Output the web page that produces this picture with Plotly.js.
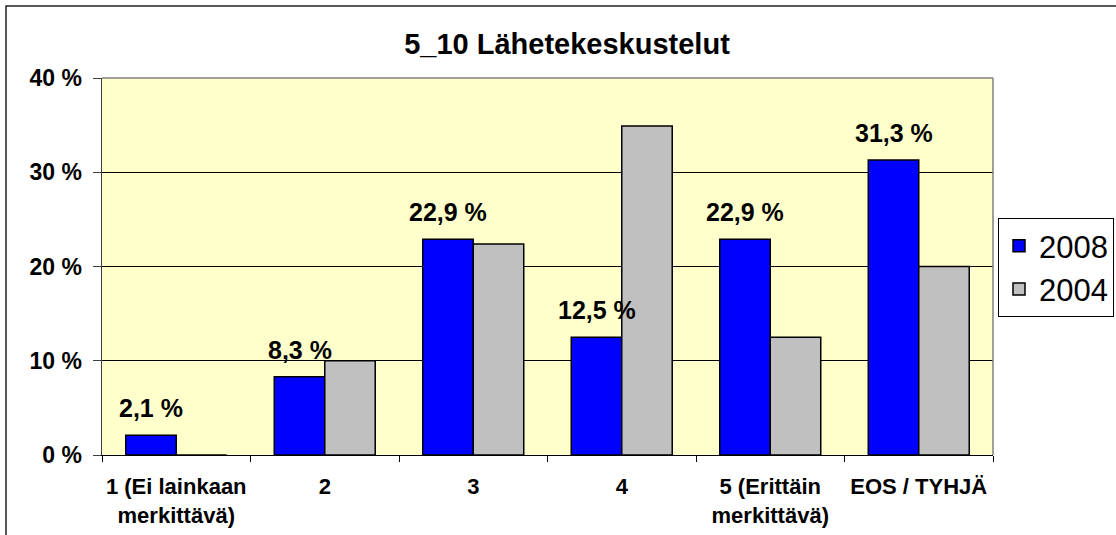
<!DOCTYPE html>
<html>
<head>
<meta charset="utf-8">
<script src="https://cdn.plot.ly/plotly-3.0.1.min.js"></script>
<style>
  html, body { margin: 0; padding: 0; background: #ffffff; }
  #chart { width: 1116px; height: 535px; }
</style>
</head>
<body>
<div id="chart"></div>
<script>
// ---- data ----
const categories = [
  "1 (Ei lainkaan<br>merkittävä)",
  "2",
  "3",
  "4",
  "5 (Erittäin<br>merkittävä)",
  "EOS / TYHJÄ"
];
const series2008 = [2.1, 8.3, 22.9, 12.5, 22.9, 31.3];
const series2004 = [0, 10.0, 22.4, 34.9, 12.5, 20.0];
const seriesNames = ["2008", "2004"];
const yTickVals = [0, 10, 20, 30, 40];
const yTickText = yTickVals.map(v => v + " %");

// ---- styling ----
const FONT = "Liberation Sans, Arial, Helvetica, sans-serif";
const W = 1116, H = 535;
const M = { l: 102, r: 123, t: 78, b: 80 };
const plotW = W - M.l - M.r, plotH = H - M.t - M.b;
const px = x => (x - M.l) / plotW;          // pixel -> paper x
const py = y => (H - M.b - y) / plotH;      // pixel -> paper y

const fmt = v => v.toFixed(1).replace(".", ",") + " %";

const traces = [
  {
    type: "bar", name: seriesNames[0], x: categories, y: series2008,
    marker: { color: "#0000FF", line: { color: "#000000", width: 1.5 } },
    hoverinfo: "skip"
  },
  {
    type: "bar", name: seriesNames[1], x: categories, y: series2004,
    marker: { color: "#C0C0C0", line: { color: "#000000", width: 1.5 } },
    hoverinfo: "skip"
  }
];

// category axis: numeric index i == category i
const annotations = series2008.map((v, i) => ({
  x: i, y: v, xref: "x", yref: "y",
  text: fmt(v), showarrow: false,
  xanchor: "center", yanchor: "middle",
  xshift: -25, yshift: 27,
  font: { family: FONT, size: 25, color: "#000", weight: 700 }
}));

const layout = {
  width: W, height: H,
  margin: { l: M.l, r: M.r, t: M.t, b: M.b, autoexpand: false },
  paper_bgcolor: "#ffffff",
  plot_bgcolor: "#FFFFCC",
  separators: ", ",
  font: { family: FONT, color: "#000" },
  title: {
    text: "5_10 Lähetekeskustelut",
    font: { family: FONT, size: 29, color: "#000", weight: 700 },
    x: px(567), xref: "paper", xanchor: "center",
    y: 1 - 44 / H, yref: "container", yanchor: "middle"
  },
  barmode: "group",
  bargap: 0.32,
  bargroupgap: 0,
  showlegend: true,
  legend: {
    x: px(998), y: py(218), xanchor: "left", yanchor: "top",
    bgcolor: "#ffffff", bordercolor: "#000000", borderwidth: 1,
    font: { family: FONT, size: 31, color: "#000" },
    traceorder: "normal"
  },
  xaxis: {
    type: "category",
    showgrid: false, zeroline: false,
    showline: true, linecolor: "#000000", linewidth: 1,
    ticks: "outside", tickson: "boundaries", ticklen: 6, tickcolor: "#000", tickwidth: 1,
    tickangle: 0,
    tickfont: { family: FONT, size: 22, color: "#000", weight: 700 },
    ticklabelstandoff: 12,
    fixedrange: true
  },
  yaxis: {
    range: [0, 40],
    tickmode: "array",
    tickvals: yTickVals,
    ticktext: yTickText,
    showgrid: true, gridcolor: "#000000", gridwidth: 1,
    zeroline: false,
    showline: true, linecolor: "#404040", linewidth: 1.5,
    ticks: "outside", ticklen: 8, tickcolor: "#404040", tickwidth: 1,
    tickfont: { family: FONT, size: 23, color: "#000", weight: 700 },
    ticklabelstandoff: 6,
    fixedrange: true
  },
  annotations: annotations,
  shapes: [
    // plot area top + right border (gray)
    { type: "line", xref: "paper", yref: "paper", x0: 0, x1: 1, y0: 1, y1: 1,
      line: { color: "#808080", width: 1.5 }, layer: "above" },
    { type: "line", xref: "paper", yref: "paper", x0: 1, x1: 1, y0: 0, y1: 1,
      line: { color: "#808080", width: 1.5 }, layer: "above" },
    // outer chart frame
    { type: "rect", xref: "paper", yref: "paper",
      x0: px(6), x1: px(1140), y0: py(560), y1: py(6),
      line: { color: "#222222", width: 1.5 }, fillcolor: "rgba(0,0,0,0)", layer: "above" }
  ]
};

Plotly.newPlot("chart", traces, layout, { displayModeBar: false, staticPlot: true });
</script>
</body>
</html>
